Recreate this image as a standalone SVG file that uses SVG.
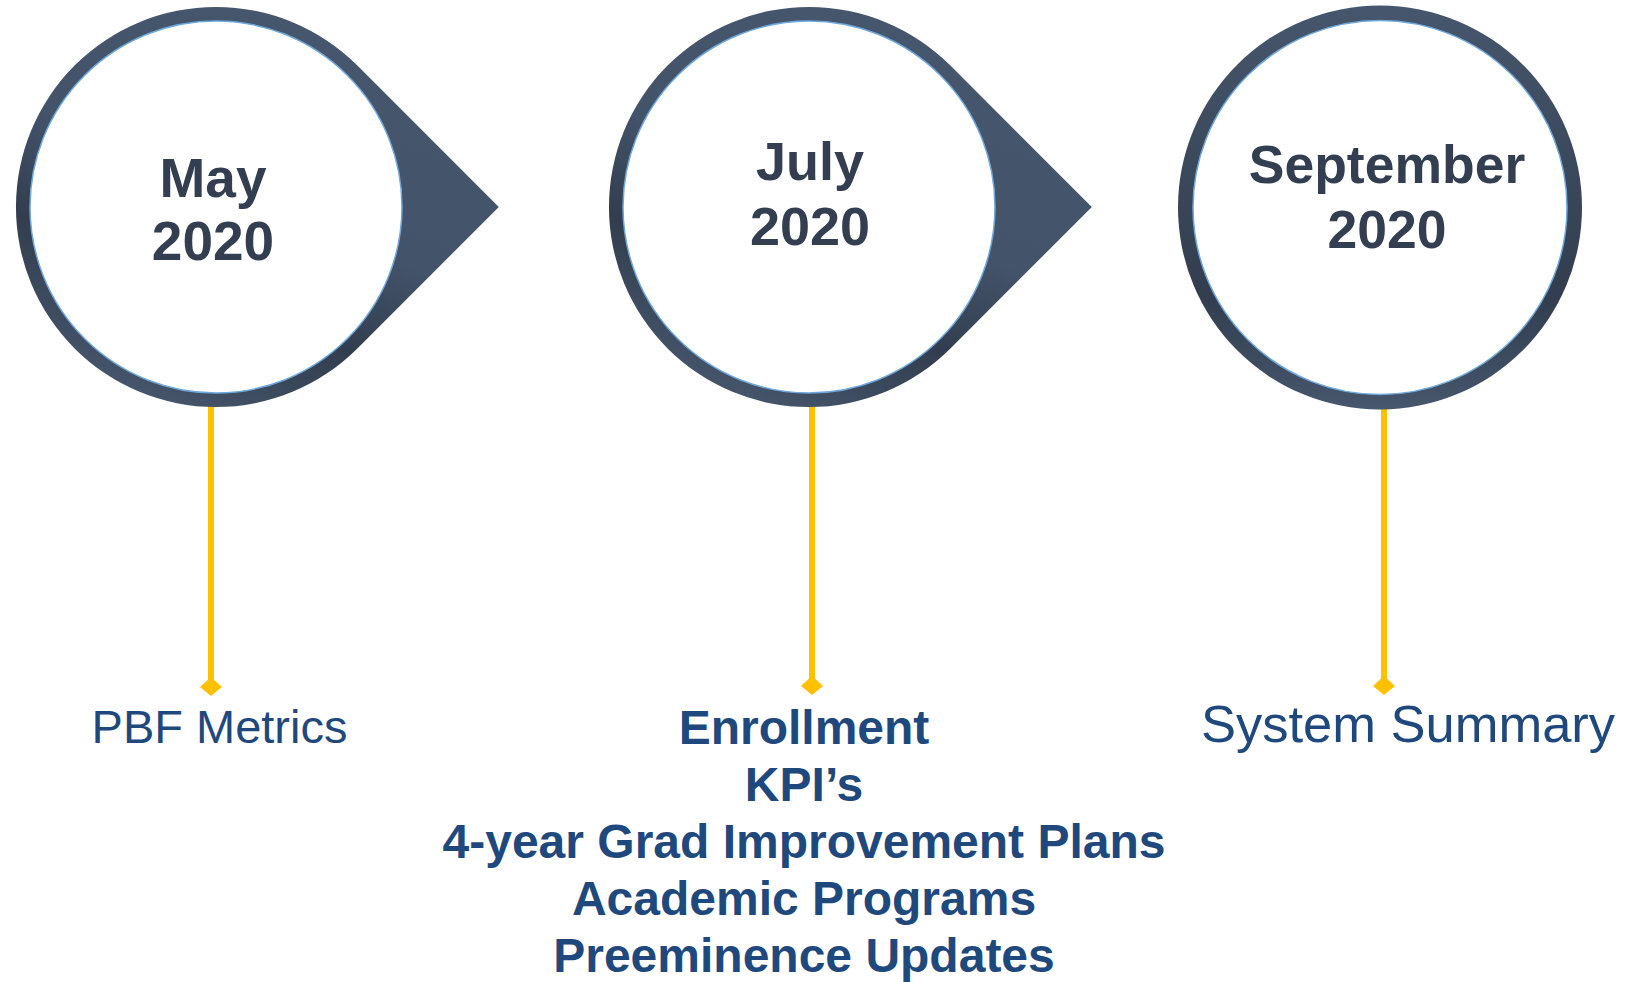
<svg xmlns="http://www.w3.org/2000/svg" width="1626" height="982" viewBox="0 0 1626 982">
  <defs>
    <linearGradient id="gTear" gradientUnits="userSpaceOnUse" x1="80" y1="-194" x2="-80" y2="194">
      <stop offset="0" stop-color="#46566c"/>
      <stop offset="0.45" stop-color="#43536a"/>
      <stop offset="0.7" stop-color="#323e4f"/>
      <stop offset="1" stop-color="#46566c"/>
    </linearGradient>
    <linearGradient id="gCirc" gradientUnits="userSpaceOnUse" x1="0" y1="-202" x2="0" y2="202">
      <stop offset="0" stop-color="#46566c"/>
      <stop offset="0.72" stop-color="#323e4f"/>
      <stop offset="1" stop-color="#46566c"/>
    </linearGradient>
    <path id="tear" d="M 141.4,-141.4 L 282.8,0 L 141.4,141.4 A 200 200 0 1 1 141.4,-141.4 Z"/>
  </defs>
  <style>
    .inner { fill: #ffffff; stroke: #6fa8dc; stroke-width: 1.5; }
    .title { font-family: "Liberation Sans", Arial, sans-serif; font-weight: bold; fill: #333f50; text-anchor: middle; }
    .lbl { font-family: "Liberation Sans", Arial, sans-serif; fill: #1f497d; text-anchor: middle; }
    .lblb { font-family: "Liberation Sans", Arial, sans-serif; font-weight: bold; fill: #1f497d; text-anchor: middle; font-size: 48px; }
    .conn { stroke: #ffc000; stroke-width: 6; fill: none; }
    .dia { fill: #ffc000; }
  </style>

  <g id="connectors">
    <line class="conn" x1="211" y1="404" x2="211" y2="681"/>
    <polygon class="dia" points="211,677 222,687 211,696 200,687"/>
    <line class="conn" x1="812" y1="404" x2="812" y2="680"/>
    <polygon class="dia" points="812,676 823,686 812,695 801,686"/>
    <line class="conn" x1="1384" y1="406" x2="1384" y2="680"/>
    <polygon class="dia" points="1384,676 1395,686 1384,695 1373,686"/>
  </g>

  <g id="node-may">
    <g transform="translate(216,207)">
      <use href="#tear" fill="url(#gTear)"/>
      <circle class="inner" cx="0" cy="0" r="186"/>
    </g>
    <text class="title" x="213" y="197" font-size="55">May</text>
    <text class="title" x="213" y="260" font-size="55">2020</text>
  </g>

  <g id="node-july">
    <g transform="translate(809,207)">
      <use href="#tear" fill="url(#gTear)"/>
      <circle class="inner" cx="0" cy="0" r="186"/>
    </g>
    <text class="title" x="810" y="180" font-size="54">July</text>
    <text class="title" x="810" y="245" font-size="54">2020</text>
  </g>

  <g id="node-september">
    <g transform="translate(1380,207.5)">
      <circle cx="0" cy="0" r="202" fill="url(#gCirc)"/>
      <circle class="inner" cx="0" cy="0" r="187"/>
    </g>
    <text class="title" x="1387" y="183" font-size="53.5">September</text>
    <text class="title" x="1387" y="248" font-size="53.5">2020</text>
  </g>

  <g id="label-may">
    <text class="lbl" x="219.5" y="743" font-size="47">PBF Metrics</text>
  </g>

  <g id="label-july">
    <text class="lblb" x="804" y="744">Enrollment</text>
    <text class="lblb" x="804" y="801">KPI’s</text>
    <text class="lblb" x="804" y="858">4-year Grad Improvement Plans</text>
    <text class="lblb" x="804" y="915">Academic Programs</text>
    <text class="lblb" x="804" y="972">Preeminence Updates</text>
  </g>

  <g id="label-september">
    <text class="lbl" x="1408" y="742" font-size="52.5">System Summary</text>
  </g>
</svg>
